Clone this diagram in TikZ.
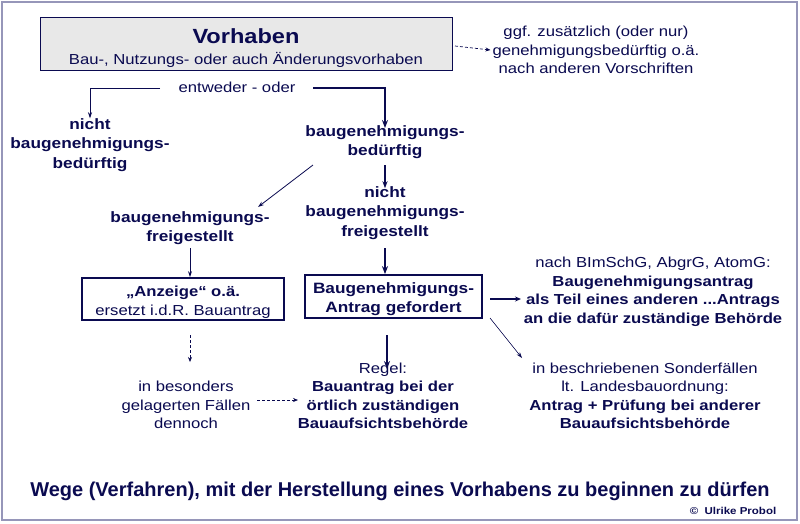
\documentclass[tikz,border=0pt]{standalone}
\usepackage{fontspec}
\setmainfont[FakeStretch=1.15]{Liberation Sans}
\newfontfamily\titlefont[FakeStretch=1.0]{Liberation Sans}
\usetikzlibrary{arrows.meta}
\definecolor{navy}{RGB}{10,10,80}
\definecolor{frame}{RGB}{150,150,185}
\definecolor{boxfill}{RGB}{232,232,232}
\begin{document}
\begin{tikzpicture}[x=1pt,y=-1pt,
  every node/.style={text=navy,align=center,inner sep=0pt,font=\fontsize{14.5}{18.5}\selectfont},
  bf/.style={font=\fontsize{15}{19.5}\selectfont\bfseries},
  thin/.style={draw=navy,line width=0.8pt,-{Stealth[length=6pt,width=4pt]}},
  thick/.style={draw=navy,line width=2pt,-{Stealth[length=8pt,width=6pt]}},
  dsh/.style={draw=navy,line width=0.7pt,densely dashed,-{Stealth[length=5pt,width=4pt]}},
  boxa/.style={draw=navy,line width=1.8pt,minimum height=42pt,fill=white}]
\useasboundingbox (0,0) rectangle (800,523);
\draw[frame,line width=1.5pt,fill=white] (2,2) rectangle (797,520);
\node[draw=navy,line width=0.9pt,fill=boxfill,minimum width=412pt,minimum height=53pt] (vor) at (246,43.5) {};
\node[font=\fontsize{20.5}{22}\selectfont\bfseries] (vt) at (246,36) {Vorhaben};
\node (vs) at (246,60) {Bau-, Nutzungs- oder auch Änderungsvorhaben};
\node (ggf) at (596,50) {ggf. zusätzlich (oder nur)\\genehmigungsbedürftig o.ä.\\nach anderen Vorschriften};
\coordinate (g1) at (455,46);
\draw[dsh] (g1) -- ([xshift=-2pt]ggf.west);
\node (eo) at (237,87) {entweder - oder};
\coordinate (l1) at (160,88); \coordinate (r1) at (313,88);
\node[bf] (nbb) at (90,145) {nicht\\baugenehmigungs-\\bedürftig};
\node[bf] (bb) at (385,142) {baugenehmigungs-\\bedürftig};
\draw[thin] (l1) -| (nbb.north);
\draw[thick] (r1) -| ([yshift=-3pt]bb.north);
\node[bf] (bf) at (190,228) {baugenehmigungs-\\freigestellt};
\node[bf] (nbf) at (385,213) {nicht\\baugenehmigungs-\\freigestellt};
\coordinate (s1) at (313,165); \coordinate (s2) at (258,207);
\draw[thin] (s1) -- (s2);
\coordinate (t1) at (385,165);
\draw[draw=navy,line width=1.4pt,-{Stealth[length=7pt,width=5pt]}] (t1) -- ([yshift=-2pt]nbf.north);
\node[boxa,minimum width=202pt] (anz) at (183,299) {};
\node (anzt) at (183,302) {\textbf{„Anzeige“ o.ä.}\\ersetzt i.d.R. Bauantrag};
\node[boxa,minimum width=177pt,minimum height=43pt] (ant) at (393.5,296.5) {};
\node[bf] (antt) at (393.5,299) {Baugenehmigungs-\\Antrag gefordert};
\coordinate (u1) at (190,248); \coordinate (u2) at (385,248);
\draw[thin] (u1) -- (anz.north -| u1);
\draw[thick] (u2) -- (ant.north -| u2);
\node (bim) at (653,292) {nach BImSchG, AbgrG, AtomG:\\\textbf{Baugenehmigungsantrag}\\\textbf{als Teil eines anderen ...Antrags}\\\textbf{an die dafür zuständige Behörde}};
\coordinate (a1) at (490,299); \coordinate (a2) at (521,299);
\draw[draw=navy,line width=1.2pt,-{Stealth[length=6pt,width=5pt]}] (a1) -- (a2);
\node (son) at (645,396) {in beschriebenen Sonderfällen\\lt. Landesbauordnung:\\\textbf{Antrag + Prüfung bei anderer}\\\textbf{Bauaufsichtsbehörde}};
\coordinate (v1) at (490,318);
\draw[thin,line width=0.6pt] (v1) -- (522,358);
\node (reg) at (383,396) {Regel:\\\textbf{Bauantrag bei der}\\\textbf{örtlich zuständigen}\\\textbf{Bauaufsichtsbehörde}};
\coordinate (w1) at (387,335);
\draw[thick] (w1) -- (387,369);
\node (bes) at (186,405) {in besonders\\gelagerten Fällen\\dennoch};
\coordinate (d1) at (190,335);
\draw[dsh] (d1) -- (190,362);
\coordinate (d2) at (257,400); \coordinate (d3) at (298,400);
\draw[dsh] (d2) -- (d3);
\node[font=\titlefont\fontsize{20}{22}\selectfont\bfseries] (tit) at (400,491) {Wege (Verfahren), mit der Herstellung eines Vorhabens zu beginnen zu dürfen};
\node[font=\fontsize{10}{12}\selectfont\bfseries] (cp) at (733,511) {©\ \ Ulrike Probol};
\end{tikzpicture}
\end{document}
